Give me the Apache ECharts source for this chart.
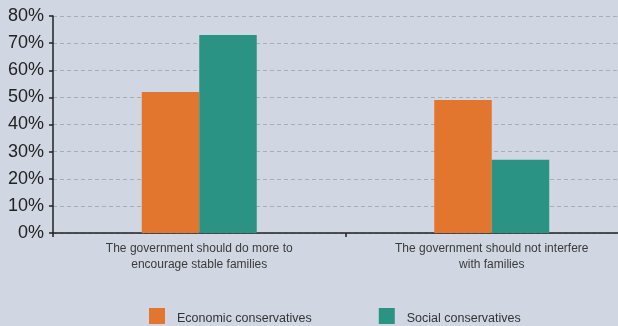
<!DOCTYPE html>
<html>
<head>
<meta charset="utf-8">
<script src="https://cdn.jsdelivr.net/npm/echarts@6/dist/echarts.min.js"></script>
<style>
  html, body { margin: 0; padding: 0; background: #d1d7e2; }
  #chart { width: 618px; height: 326px; }
</style>
</head>
<body>
<div id="chart"></div>
<script>
// Survey categories (two lines each)
const categories = [
  'The government should do more to\nencourage stable families',
  'The government should not interfere\nwith families'
];
// Share of respondents agreeing, in percent
const economicConservatives = [52, 49];
const socialConservatives = [73, 27];
// Value axis range
const yMin = 0;
const yMax = 80;
const yStep = 10;

const chart = echarts.init(document.getElementById('chart'));
const font = '"Liberation Sans", Arial, Helvetica, sans-serif';

chart.setOption({
  backgroundColor: '#d1d7e2',
  animation: false,
  grid: {
    left: 53, width: 585, top: 16, bottom: 93,
    containLabel: false, outerBoundsMode: 'none'
  },
  legend: {
    left: 149,
    top: 308,
    padding: 0,
    itemWidth: 16,
    itemHeight: 16,
    itemGap: 67,
    icon: 'rect',
    formatter: '{t|{name}}',
    textStyle: {
      fontFamily: font, fontSize: 12.5, color: '#333',
      rich: { t: { fontFamily: font, fontSize: 12.5, color: '#333', padding: [6, 0, 0, 7] } }
    },
    data: ['Economic conservatives', 'Social conservatives']
  },
  xAxis: {
    type: 'category',
    data: categories,
    axisLine: { lineStyle: { color: '#222', width: 1.5 } },
    axisTick: { show: true, length: 4, inside: false, lineStyle: { color: '#222', width: 1.5 } },
    axisLabel: {
      fontFamily: font, fontSize: 12, color: '#3a3a3a', lineHeight: 16, margin: 8
    }
  },
  yAxis: {
    type: 'value',
    min: yMin,
    max: yMax,
    interval: yStep,
    axisLine: { show: true, lineStyle: { color: '#222', width: 1.5 } },
    axisTick: { show: true, length: 4, lineStyle: { color: '#222', width: 1.5 } },
    axisLabel: {
      formatter: '{value}%', fontFamily: font, fontSize: 18, color: '#222', margin: 9
    },
    splitLine: { lineStyle: { color: '#a9adb4', type: [4, 3], width: 1 } }
  },
  series: [
    {
      name: 'Economic conservatives',
      type: 'bar',
      data: economicConservatives,
      barWidth: 57.5,
      barGap: '0%',
      itemStyle: { color: '#e3762e' }
    },
    {
      name: 'Social conservatives',
      type: 'bar',
      data: socialConservatives,
      barWidth: 57.5,
      barGap: '0%',
      itemStyle: { color: '#2a9383' }
    }
  ]
});
</script>
</body>
</html>
